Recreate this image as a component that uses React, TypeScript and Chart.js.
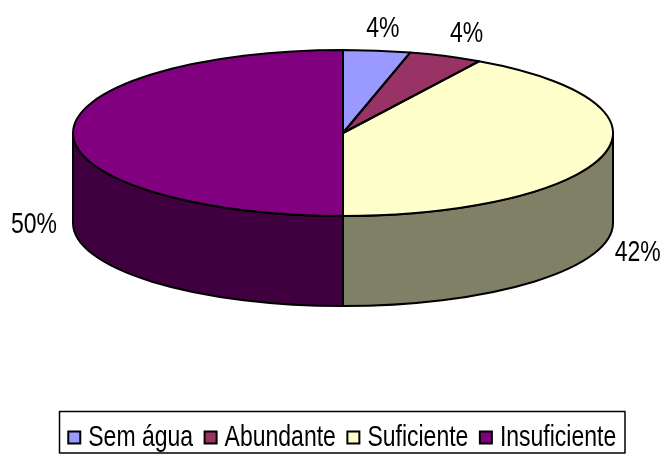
import React, { useEffect, useRef } from "react";
import { Chart, registerables } from "chart.js";

Chart.register(...registerables);

const categories = ["Sem água", "Abundante", "Suficiente", "Insuficiente"];
const shares = [4, 4.4, 41.6, 50];
const percentLabels = ["4%", "4%", "42%", "50%"];
const topColors = ["#9999FF", "#993366", "#FFFFCC", "#800080"];
const wallColors = ["#4D4D80", "#4D1A33", "#808066", "#400040"];

// Styling of the tilted disc and labels (screen geometry, not data)
const FONT = '"Liberation Sans", Arial, sans-serif';
const FONT_SIZE = 23;
const TEXT_STRETCH = 1.27;
const disc = { cx: 343, cy: 133, rx: 270, ry: 83, depth: 90 };
const labelOffsets = [
  [6, -22],
  [21, -22],
  [34, 98],
  [-39, 92],
];
const frame = { left: 59.5, top: 411.5, right: 625, bottom: 453 };
const LEGEND_BOX = 5;

function tallText(ctx: any, text: string, x: number, y: number, align: string) {
  ctx.save();
  ctx.font = `${FONT_SIZE}px ${FONT}`;
  ctx.fillStyle = "#000";
  ctx.textAlign = align;
  ctx.textBaseline = "middle";
  ctx.translate(x, y);
  ctx.scale(1, TEXT_STRETCH);
  ctx.fillText(text, 0, 0);
  ctx.restore();
}

const pie3d = {
  id: "pie3d",
  beforeDatasetsDraw(chart: any) {
    const ctx = chart.ctx;
    const arcs = chart.getDatasetMeta(0).data;
    const { cx, cy, rx, ry, depth } = disc;
    ctx.save();
    ctx.lineWidth = 2;
    ctx.strokeStyle = "#000";
    arcs.forEach((arc: any, i: number) => {
      for (const shift of [0, Math.PI * 2]) {
        const a = Math.max(arc.startAngle, shift);
        const b = Math.min(arc.endAngle, shift + Math.PI);
        if (b <= a) continue;
        ctx.beginPath();
        ctx.ellipse(cx, cy, rx, ry, 0, a, b);
        ctx.ellipse(cx, cy + depth, rx, ry, 0, b, a, true);
        ctx.closePath();
        ctx.fillStyle = wallColors[i];
        ctx.fill();
        ctx.stroke();
      }
    });
    ctx.restore();
    const first = arcs[0];
    const R = first.outerRadius;
    ctx.save();
    ctx.translate(cx, cy);
    ctx.scale(rx / R, ry / R);
    ctx.translate(-first.x, -first.y);
  },
  afterDatasetsDraw(chart: any) {
    const ctx = chart.ctx;
    ctx.restore();
    const arcs = chart.getDatasetMeta(0).data;
    const { cx, cy, rx, ry } = disc;
    ctx.save();
    ctx.lineWidth = 2;
    ctx.strokeStyle = "#000";
    ctx.lineJoin = "round";
    arcs.forEach((arc: any) => {
      ctx.beginPath();
      ctx.moveTo(cx, cy);
      ctx.ellipse(cx, cy, rx, ry, 0, arc.startAngle, arc.endAngle);
      ctx.closePath();
      ctx.stroke();
    });
    arcs.forEach((arc: any, i: number) => {
      const mid = (arc.startAngle + arc.endAngle) / 2;
      const x = cx + rx * Math.cos(mid) + labelOffsets[i][0];
      const y = cy + ry * Math.sin(mid) + labelOffsets[i][1];
      tallText(ctx, percentLabels[i], x, y, "center");
    });
    ctx.lineWidth = 1.5;
    ctx.strokeRect(frame.left, frame.top, frame.right - frame.left, frame.bottom - frame.top);
    // Legend captions: placed from the hit boxes the library's legend computed
    chart.legend.legendHitBoxes.forEach((hit: any, i: number) => {
      tallText(ctx, categories[i], hit.left + LEGEND_BOX + FONT_SIZE / 2, hit.top + hit.height / 2, "left");
    });
    ctx.restore();
  },
};

export default function App() {
  const ref = useRef<HTMLCanvasElement>(null);
  useEffect(() => {
    document.body.style.margin = "0";
    const chart = new Chart(ref.current as HTMLCanvasElement, {
      type: "pie",
      data: {
        labels: categories,
        datasets: [
          {
            data: shares,
            backgroundColor: topColors,
            borderWidth: 0,
            clip: false,
          } as any,
        ],
      },
      options: {
        responsive: false,
        animation: false,
        layout: { padding: { left: 27, right: 0, top: 0, bottom: -5 } },
        plugins: {
          tooltip: { enabled: false },
          legend: {
            position: "bottom",
            labels: {
              font: { family: FONT, size: FONT_SIZE },
              color: "rgba(0,0,0,0)",
              usePointStyle: true,
              pointStyle: "rect",
              boxWidth: LEGEND_BOX,
              boxHeight: 12,
              padding: 15,
              generateLabels(c: any) {
                const base = (Chart as any).overrides.doughnut.plugins.legend.labels.generateLabels(c);
                return base.map((it: any) => ({
                  ...it,
                  fontColor: "rgba(0,0,0,0)",
                  strokeStyle: "#000",
                  lineWidth: 2,
                  pointStyle: "rect",
                }));
              },
            },
          },
        },
      },
      plugins: [pie3d],
    } as any);
    return () => chart.destroy();
  }, []);
  return <canvas ref={ref} width={661} height={454} style={{ display: "block" }} />;
}
